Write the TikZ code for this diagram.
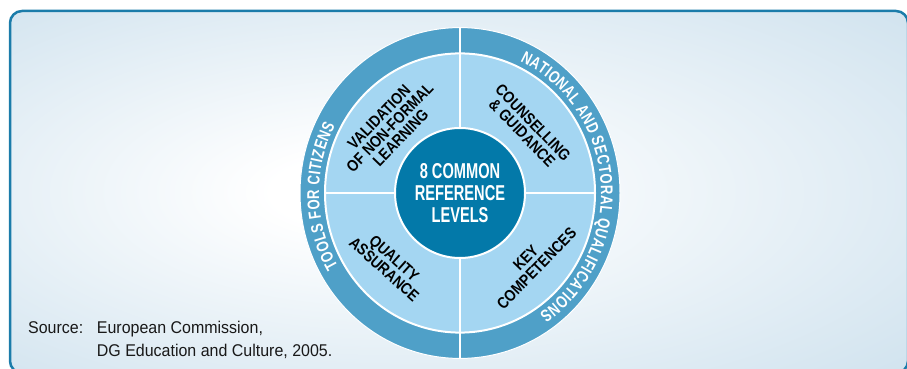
\documentclass[tikz,border=0pt]{standalone}
\usepackage{fontspec}
\setmainfont{Liberation Sans}
\newfontfamily\ringfont[FakeStretch=0.77]{Liberation Sans}
\newfontfamily\quadfont[FakeStretch=0.86]{Liberation Sans}
\newfontfamily\hubfont[FakeStretch=0.68]{Liberation Sans}
\newfontfamily\srcfont[FakeStretch=0.94]{Liberation Sans}

\definecolor{ringblue}{HTML}{4FA0C8}
\definecolor{quadblue}{HTML}{A4D6F2}
\definecolor{hubblue}{HTML}{0379A9}
\definecolor{frameblue}{HTML}{1B7CAA}
\definecolor{glowblue}{HTML}{CCE0ED}

\pgfdeclareradialshading{glow}{\pgfpoint{-6bp}{0bp}}{color(0bp)=(white); color(5bp)=(white); color(40bp)=(glowblue); color(50bp)=(glowblue)}

\begin{document}
\begin{tikzpicture}[x=1pt,y=1pt,
    hub/.style={circle, fill=hubblue, draw=white, line width=2, minimum size=130,
      align=center, text=white, font=\hubfont\bfseries\fontsize{21.5}{22}\selectfont},
    quad/.style={align=center, text=black, inner sep=1, font=\quadfont\bfseries\fontsize{16}{15}\selectfont},
    ringchar/.style={anchor=base, inner sep=0, text=white, font=\ringfont\bfseries\fontsize{17}{17}\selectfont},
    src/.style={anchor=base west, inner sep=0, text=black!90, font=\srcfont\fontsize{17}{20}\selectfont}]
  \useasboundingbox (0,0) rectangle (907,369);
  % panel
  \path[shading=glow, rounded corners=12] (10,-4) rectangle (908,358);
  \draw[frameblue, line width=2.5, rounded corners=12] (10,-4) rectangle (908,358);

  \coordinate (ctr) at (460,176);
  \begin{scope}[shift={(ctr)}, yscale=1.034]
    \fill[ringblue, draw=white, line width=1] (0,0) circle (160);
    \fill[quadblue, draw=white, line width=2] (0,0) circle (135);
    \draw[white, line width=2] (0,160) -- (0,-160) (-135,0) -- (135,0);
  \end{scope}

  % ring captions, one letter at a time, clockwise (5.282 deg per em, 0.1 deg tracking)
  \xdef\ringpos{210.3}
  \foreach \ch/\w [count=\i] in {T/.611,O/.778,O/.778,L/.611,S/.667,/.278,F/.611,O/.778,R/.722,/.278,
      C/.722,I/.278,T/.611,I/.278,Z/.611,E/.667,N/.722,S/.667} {
    \pgfmathsetmacro\a{\ringpos-\w*5.282/2}
    \node[ringchar, rotate=\a-90] (tools\i) at ([shift={(\a:141 and 145.8)}]ctr) {\ch};
    \pgfmathsetmacro\b{\ringpos-\w*5.282-0.1}
    \xdef\ringpos{\b}
  }
  \xdef\ringpos{64.8}
  \foreach \ch/\w [count=\i] in {N/.722,A/.722,T/.611,I/.278,O/.778,N/.722,A/.722,L/.611,/.278,
      A/.722,N/.722,D/.722,/.278,S/.667,E/.667,C/.722,T/.611,O/.778,R/.722,A/.722,L/.611,/.278,
      Q/.778,U/.722,A/.722,L/.611,I/.278,F/.611,I/.278,C/.722,A/.722,T/.611,I/.278,O/.778,N/.722,S/.667} {
    \pgfmathsetmacro\a{\ringpos-\w*5.282/2}
    \node[ringchar, rotate=\a-90] (nsq\i) at ([shift={(\a:141 and 145.8)}]ctr) {\ch};
    \pgfmathsetmacro\b{\ringpos-\w*5.282-0.1}
    \xdef\ringpos{\b}
  }

  \node[hub] (hub) at (ctr) {8 COMMON\\REFERENCE\\LEVELS};

  \node[quad, rotate=46] (valid) at ([shift={(137:96)}]ctr) {VALIDATION\\OF NON-FORMAL\\LEARNING};
  \node[quad, rotate=-46] (guide) at ([shift={(44:94)}]ctr) {COUNSELLING\\\& GUIDANCE};
  \node[quad, rotate=-42] (qual) at ([shift={(225:100)}]ctr) {QUALITY\\ASSURANCE};
  \node[quad, rotate=46] (keyc) at ([shift={(-44.6:100)}]ctr) {KEY\\COMPETENCES};

  \node[src] (srclabel) at (28,35) {Source:};
  \node[src] (srcorg) at (96.7,35) {European Commission,};
  \node[src] (srcdept) at ([yshift=-22.5]srcorg.base west) {DG Education and Culture, 2005.};
\end{tikzpicture}
\end{document}
